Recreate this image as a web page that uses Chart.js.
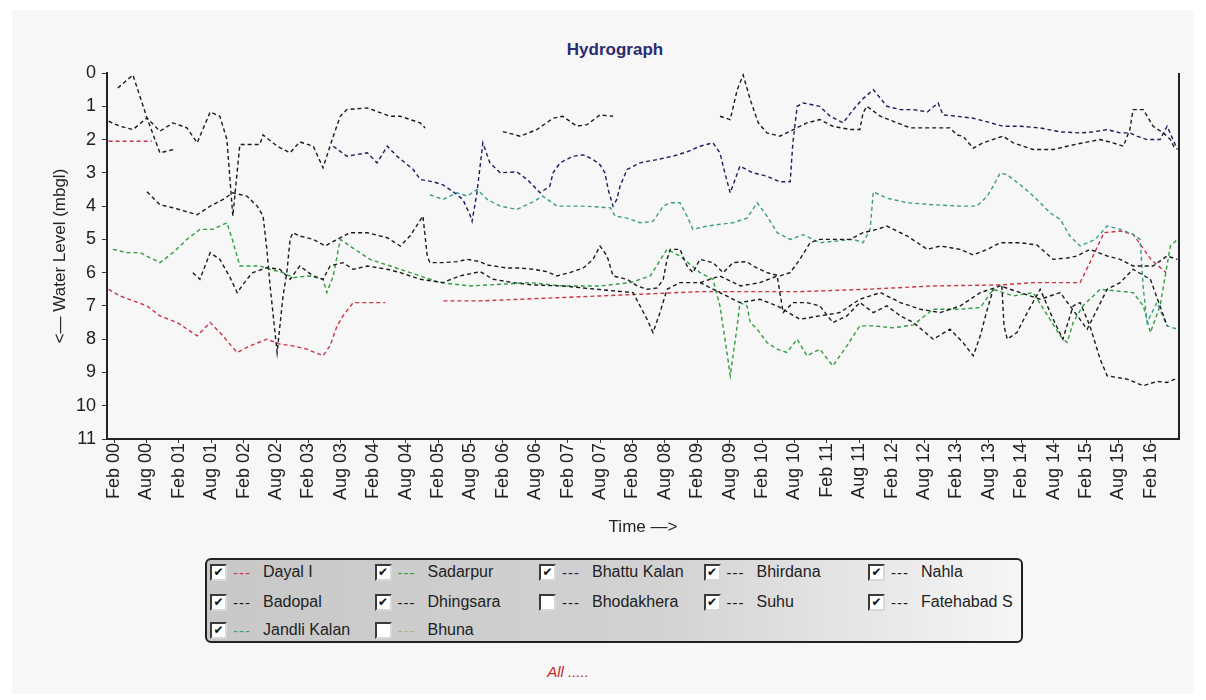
<!DOCTYPE html>
<html>
<head>
<meta charset="utf-8">
<script src="https://cdn.jsdelivr.net/npm/chart.js@4.4.1/dist/chart.umd.min.js"></script>
<style>
html,body{margin:0;padding:0;background:#fff;width:1206px;height:700px;overflow:hidden;font-family:"Liberation Sans",Arial,sans-serif;}
#panel{position:absolute;left:12px;top:10px;width:1182px;height:684px;background:#f7f7f7;}
#wrap{position:absolute;left:0;top:0;width:1206px;height:545px;}
#title{position:absolute;left:515px;top:40px;width:200px;text-align:center;font-weight:bold;font-size:17px;color:#2b2b72;}
#legend{position:absolute;left:205px;top:558px;width:814px;height:81px;border:2px solid #222;border-radius:6px;background:linear-gradient(to right,#c8c8c8,#d2d2d2 55%,#f6f6f6);overflow:hidden;}
.item{position:absolute;height:18px;display:flex;align-items:center;font-size:16px;color:#222;white-space:nowrap;}
.cb{box-sizing:border-box;width:17px;height:17px;border:2px solid;border-color:#3a3a3a #d8d8d8 #d8d8d8 #3a3a3a;background:#fff;display:flex;align-items:center;justify-content:center;font-size:12px;line-height:1;color:#111;font-family:"DejaVu Sans",sans-serif;}
.dash{width:30px;margin-left:6px;font-size:15px;letter-spacing:1px;}
#footer{position:absolute;left:518px;top:663px;width:100px;text-align:center;font-style:italic;font-size:15px;color:#c02828;}
</style>
</head>
<body>
<div id="panel"></div>
<div id="title">Hydrograph</div>
<div id="wrap"><canvas id="c" width="1206" height="545"></canvas></div>
<div id="legend"></div>
<div id="footer">All .....</div>
<script>
// ---- tick labels (every 6 months, Feb/Aug) ----
const tickLabels = ["Feb 00","Aug 00","Feb 01","Aug 01","Feb 02","Aug 02","Feb 03","Aug 03","Feb 04","Aug 04",
  "Feb 05","Aug 05","Feb 06","Aug 06","Feb 07","Aug 07","Feb 08","Aug 08","Feb 09","Aug 09","Feb 10","Aug 10",
  "Feb 11","Aug 11","Feb 12","Aug 12","Feb 13","Aug 13","Feb 14","Aug 14","Feb 15","Aug 15","Feb 16"];

// ---- series: months since Jan 2000, water level (mbgl) ----
const dayalEarlyMonths = [0, 8];
const dayalEarlyLevels = [2.05, 2.05];
const dayalMonths = [0,2.1,7.1,9.5,12.7,16.4,18.8,20.6,23.8,26.2,29.3,31.7,34.1,36.7,39.7,41,42.3,43.4,45.3,51.2,56,62,68.8,76.2,83.6,91,98.4,109.5,120.6,128,140.4,152.6,165,171.2,179.9,181.7,184.3,187.3,189.7,193,195.8];
const dayalLevels = [6.5,6.7,7.0,7.3,7.5,7.9,7.5,7.8,8.4,8.2,8.0,8.15,8.2,8.3,8.5,8.2,7.6,7.3,6.9,6.9,null,6.85,6.85,6.8,6.75,6.7,6.65,6.57,6.57,6.57,6.5,6.4,6.37,6.3,6.3,5.7,4.8,4.75,4.85,5.6,6.0];

const sadarpurMonths = [0.8,3.4,5.8,9.5,11.9,14.5,16.9,19.3,21.9,22.9,24.3,28,29.9,32.3,34.1,37.3,39.7,40.4,41.6,42.9,45.6,48.4,54,57.7,61.4,66.9,72.5,78,84.1,91,96.6,100.3,103.4,105.8,109.5,111.9,113.2,114.5,115.1,116.4,116.9,118.2,118.8,120.1,121.9,123.8,125.6,127.5,129.3,131.7,134.1,136.7,139.1,141.6,145.3,149,152.7,157.7,161.4,163.8,167.5,171.2,174.3,176.2,177.5,178.6,180.4,183.6,189.7,191.6,192.9,194.7,196.6,197.9];
const sadarpurLevels = [5.3,5.4,5.4,5.7,5.4,5.0,4.7,4.7,4.5,5.0,5.8,5.8,5.9,6.0,6.15,6.1,6.2,6.6,6.1,5.0,5.3,5.6,5.9,6.1,6.3,6.4,6.35,6.3,6.4,6.4,6.3,6.1,5.3,5.5,6.0,6.2,7.0,8.4,9.1,7.6,6.9,7.0,7.5,7.7,8.1,8.3,8.4,8.0,8.5,8.3,8.8,8.2,7.6,7.6,7.66,7.57,7.1,7.1,7.05,6.5,6.7,6.6,7.4,7.9,8.1,7.5,7.0,6.5,6.6,7.0,7.8,7.0,5.2,5.0];

const jandliMonths = [59.5,61.9,64.5,66.4,68.2,70.1,72.5,75.6,78.6,80.4,83,87.9,92.9,93.8,96,98.4,100.8,102.7,104,105.8,107.1,108.2,110.8,115.6,118.2,120.1,121.9,123.8,126.2,128.6,131.7,137.9,139.7,141,141.6,144.1,147.9,152.7,157.7,160.8,162.7,163.8,165.1,166.4,168.8,170.6,172.5,174.3,176.2,178,179.9,182.7,184.9,187.3,189.7,191,191.6,192.3,194.1,196,197.9];
const jandliLevels = [3.66,3.8,3.6,3.7,3.5,3.8,4.0,4.1,3.87,3.7,4.0,4.0,4.05,4.3,4.36,4.5,4.46,4.0,3.9,3.9,4.3,4.7,4.6,4.5,4.36,3.9,4.3,4.8,5.0,4.86,5.1,5.0,5.1,4.7,3.57,3.76,3.9,3.96,4.0,4.0,3.7,3.4,3.0,3.06,3.36,3.6,3.9,4.2,4.4,4.9,5.2,5.0,4.6,4.7,4.85,5.0,6.5,7.5,6.9,7.6,7.7];

const bhattuMonths = [41.6,44.1,47.9,49.7,51.6,53.4,56.4,57.7,60.1,61.9,63.8,65.6,66.9,67.3,68.2,69.3,70.6,72.5,75.6,77.5,79.9,81.7,82.3,83.6,86,87.9,89.7,91,91.9,92.5,93.4,94.1,94.7,96,98.4,101.6,104.5,107.1,109.5,111.9,113.2,114.1,115.1,116.9,119.3,121.9,124.3,126.2,126.7,127.5,128.6,131.7,133.6,136,137.9,139.5,141.6,142.9,144.1,146.6,149,151.6,153.6,154.5,157.1,160.1,162.7,165.6,168.8,172.5,176.2,179.9,182.3,184.9,187.3,189.1,190.4,192.3,194.7,196,197.9];
const bhattuLevels = [2.2,2.5,2.4,2.7,2.2,2.5,2.9,3.2,3.27,3.36,3.57,3.8,4.26,4.46,3.6,2.1,2.7,3.0,2.97,3.2,3.6,3.4,3.0,2.7,2.5,2.46,2.6,2.76,3.0,3.5,4.0,3.8,3.4,2.9,2.7,2.6,2.5,2.37,2.2,2.1,2.4,3.0,3.6,2.8,3.0,3.1,3.27,3.27,2.1,1.0,0.9,1.0,1.3,1.5,1.1,0.8,0.5,0.76,1.0,1.1,1.1,1.17,0.9,1.26,1.3,1.36,1.47,1.6,1.6,1.65,1.77,1.8,1.77,1.7,1.8,1.8,1.9,2.0,2.0,1.6,2.3];

const badopalMonths = [0,2.1,4.5,7.1,9.5,11.9,14.5,16.4,18.8,20.6,21.9,23,24.3,28,28.6,31.2,33.6,35.4,37.9,39.7,41.6,42.9,44.1,47.9,52.1,54,57.7,58.6];
const badopalLevels = [1.45,1.6,1.7,1.35,1.75,1.5,1.65,2.1,1.17,1.3,2.0,4.3,2.15,2.15,1.86,2.2,2.4,2.07,2.2,2.85,1.9,1.3,1.1,1.05,1.3,1.3,1.5,1.65];

const nahlaMonths = [1.7,4.5,6.4,7.1,9.5,12,40,73,76.2,79.3,82.3,84.1,86.7,88.6,91,93.4,100,113.2,115.1,116.4,117.5,118.8,120.3,121.9,124.3,129.3,131.7,134.1,137.3,139.1,139.7,140.4,142.9,148.4,155.8,157.1,158.2,160.1,161.9,165.6,167.5,171.2,174.9,177.5,180.4,183.6,186,187.9,189.1,189.7,191.6,193.4,195.3,196.6,197.5];
const nahlaLevels = [0.45,0.06,1.0,1.35,2.4,2.3,null,1.76,1.9,1.7,1.36,1.3,1.6,1.55,1.26,1.3,null,1.3,1.4,0.5,0.06,0.8,1.5,1.8,1.9,1.5,1.4,1.6,1.7,1.7,1.2,1.0,1.3,1.65,1.65,1.86,1.9,2.26,2.1,1.9,2.1,2.3,2.3,2.2,2.1,2.0,2.1,2.2,1.7,1.1,1.1,1.6,1.8,2.0,2.3];

const dhingsaraMonths = [7.1,9.5,11.9,16.4,18.8,21.2,23,25.6,27.5,28.6,29.3,29.9,31.2,32.3,33,33.6,34.1,35.4,37.9,40.1,42.3,44.7,47.9,51.6,54,55.8,58.2,59,59.5,61.9,64.5,66.4,68.8,70.1,73.8,76.2,78.6,81.2,83,85.4,87.9,89.7,91,92.3,93.4,96,97.9,99.7,101.6,102.7,103.4,104,105.8,107.1,108.2,109.5,111.9,113.8,115.6,118.2,119.3,121.9,124.3,126.2,128,129.9,131.7,137.3,139.7,142.3,144.1,146.6,147.9,151.6,154,157.7,160.1,162.7,165.1,168.8,171.9,174.9,177.5,179.3,181.7,184.9,187.3,189.7,193.4,196,197.9];
const dhingsaraLevels = [3.57,3.96,4.05,4.26,4.0,3.8,3.6,3.7,4.0,4.3,5.3,6.4,8.4,6.7,6.0,5.0,4.8,4.9,5.0,5.2,5.0,4.8,4.8,4.95,5.2,4.9,4.3,5.5,5.7,5.7,5.67,5.6,5.67,5.77,5.86,5.86,5.9,5.97,6.1,6.0,5.86,5.6,5.2,5.5,6.1,6.2,6.4,6.5,6.46,6.2,5.6,5.3,5.3,5.8,6.0,5.6,5.7,6.0,5.7,5.67,5.8,6.0,6.1,6.0,5.6,5.1,5.0,5.0,4.8,4.7,4.6,4.8,4.9,5.3,5.2,5.3,5.47,5.3,5.1,5.1,5.17,5.6,5.56,5.5,5.3,5.5,5.6,5.8,5.8,5.5,5.6];

const suhuMonths = [15.6,16.9,18.8,20.6,22.5,23.8,25.6,26.7,29.3,31.7,33.6,35.4,37.9,39.7,41,43.4,45.3,47.9,51.6,54,57.7,61.9,65,68.8,71.2,74.9,78.6,84.1,90.4,97.1,98.4,99.7,100.8,102.1,103.4,105.8,109.5,113.2,117,120.6,123.8,124.9,126.7,129.3,131.7,134.1,136.7,139.1,141.6,144.1,146.6,149,152.7,155.8,158.2,160.1,161.4,162.7,163.8];
const suhuLevels = [6.0,6.2,5.4,5.6,6.15,6.6,6.2,6.0,5.85,5.9,6.2,5.8,6.1,6.2,5.8,5.7,5.9,5.8,5.9,6.0,6.2,6.3,6.1,5.97,6.2,6.3,6.37,6.4,6.5,6.6,7.0,7.4,7.8,7.2,6.5,6.3,6.3,6.1,6.4,6.3,6.1,7.2,6.9,6.9,7.0,7.5,7.3,6.9,7.2,7.0,7.3,7.5,8.0,7.7,8.1,8.5,7.9,7.1,6.5];

const fatehabadMonths = [165.4,165.8,166.4,168.2,170.1,172.5,174.9,176.7,178.6,179.9,181.7,183.6,184.9,188.6,191.6,194.1,196,197.5];
const fatehabadLevels = [6.4,7.6,8.0,7.8,7.2,6.5,7.4,8.0,7.0,6.9,7.6,8.6,9.1,9.2,9.4,9.27,9.3,9.2];

const bhirdanaMonths = [109.5,113.2,116.9,120.6,123.8,128,131.7,135.4,139.1,142.9,146.6,150.3,154,157.7,161.4,165.1,168.8,172.5,176.2,181.2,184.9,187.3,189.7,192.9,196];
const bhirdanaLevels = [6.3,6.6,6.9,6.8,7.0,7.4,7.3,7.2,6.8,6.6,6.9,7.1,7.2,7.0,6.6,6.4,6.6,6.8,6.6,7.7,6.5,6.3,5.9,6.2,7.6];

// ---- legend (row-major, 5 columns) ----
const legendNames   = ["Dayal I","Sadarpur","Bhattu Kalan","Bhirdana","Nahla","Badopal","Dhingsara","Bhodakhera","Suhu","Fatehabad S","Jandli Kalan","Bhuna"];
const legendColors  = ["#cc3344","#2e9e3e","#1c1c5c","#1a1a1a","#1a1a1a","#1a1a1a","#1a1a1a","#1a1a1a","#1a1a1a","#1a1a1a","#3c9c8c","#9cbc7c"];
const legendChecked = [true,true,true,true,true,true,true,false,true,true,true,false];

function pts(ms, vs){ return ms.map((m,i)=>({x:m, y:vs[i]})); }
function colorOf(name){ return legendColors[legendNames.indexOf(name)]; }
function ds(name, ms, vs){
  return {label:name, data:pts(ms,vs), borderColor:colorOf(name), backgroundColor:colorOf(name),
    borderWidth:1.4, borderDash:[4,3], pointRadius:0, fill:false, spanGaps:false, tension:0};
}

const datasets = [
  ds("Fatehabad S", fatehabadMonths, fatehabadLevels),
  ds("Bhirdana", bhirdanaMonths, bhirdanaLevels),
  ds("Suhu", suhuMonths, suhuLevels),
  ds("Dhingsara", dhingsaraMonths, dhingsaraLevels),
  ds("Badopal", badopalMonths, badopalLevels),
  ds("Nahla", nahlaMonths, nahlaLevels),
  ds("Bhattu Kalan", bhattuMonths, bhattuLevels),
  ds("Jandli Kalan", jandliMonths, jandliLevels),
  ds("Sadarpur", sadarpurMonths, sadarpurLevels),
  ds("Dayal I", dayalMonths, dayalLevels),
  ds("Dayal I", dayalEarlyMonths, dayalEarlyLevels)
];

Chart.defaults.font.family = '"Liberation Sans", Arial, sans-serif';
Chart.defaults.color = '#222';

const rightBorder = {
  id:'rightBorder',
  afterDraw(chart){
    const {ctx, chartArea:a} = chart;
    ctx.save();
    ctx.strokeStyle = '#222'; ctx.lineWidth = 2;
    ctx.beginPath(); ctx.moveTo(a.right, a.top); ctx.lineTo(a.right, a.bottom); ctx.stroke();
    ctx.restore();
  }
};

new Chart(document.getElementById('c'), {
  type:'line',
  data:{datasets},
  options:{
    responsive:false, animation:false,
    layout:{padding:{left:40, top:73, right:27, bottom:0}},
    plugins:{legend:{display:false}, title:{display:false}, tooltip:{enabled:false}},
    scales:{
      x:{
        type:'linear', min:-0.3, max:198.2,
        afterBuildTicks:(s)=>{ s.ticks = tickLabels.map((_,i)=>({value:1+6*i})); },
        afterFit:(s)=>{ s.height = 106; },
        ticks:{autoSkip:false, maxRotation:90, minRotation:90, padding:0, font:{size:18}, color:'#222',
               callback:(v,i)=>tickLabels[i]},
        grid:{drawOnChartArea:false, drawTicks:true, tickLength:4, color:'#333', lineWidth:1},
        border:{display:true, color:'#222', width:2},
        title:{display:true, text:'Time \u2014>', font:{size:17}, color:'#222', padding:{top:0, bottom:7}}
      },
      y:{
        reverse:true, min:0, max:11,
        afterFit:(s)=>{ s.width = 67; },
        ticks:{stepSize:1, padding:6, font:{size:18}, color:'#222'},
        grid:{drawOnChartArea:false, drawTicks:true, tickLength:5, color:'#333', lineWidth:1},
        border:{display:true, color:'#222', width:2},
        title:{display:true, text:'<\u2014 Water Level (mbgl)', font:{size:17}, color:'#222', padding:{top:10, bottom:0}}
      }
    }
  },
  plugins:[rightBorder]
});

// ---- HTML legend with check boxes ----
const leg = document.getElementById('legend');
const rowTops = [3, 33, 61];
legendNames.forEach((name,i)=>{
  const col = i % 5, row = Math.floor(i/5);
  const it = document.createElement('div');
  it.className = 'item';
  it.style.left = (3 + col*164.5) + 'px';
  it.style.top = rowTops[row] + 'px';
  const cb = document.createElement('span'); cb.className = 'cb';
  cb.textContent = legendChecked[i] ? '\u2714' : '';
  const dash = document.createElement('span'); dash.className = 'dash';
  dash.style.color = legendColors[i]; dash.textContent = '---';
  const tx = document.createElement('span'); tx.textContent = name;
  it.appendChild(cb); it.appendChild(dash); it.appendChild(tx);
  leg.appendChild(it);
});
</script>
</body>
</html>
